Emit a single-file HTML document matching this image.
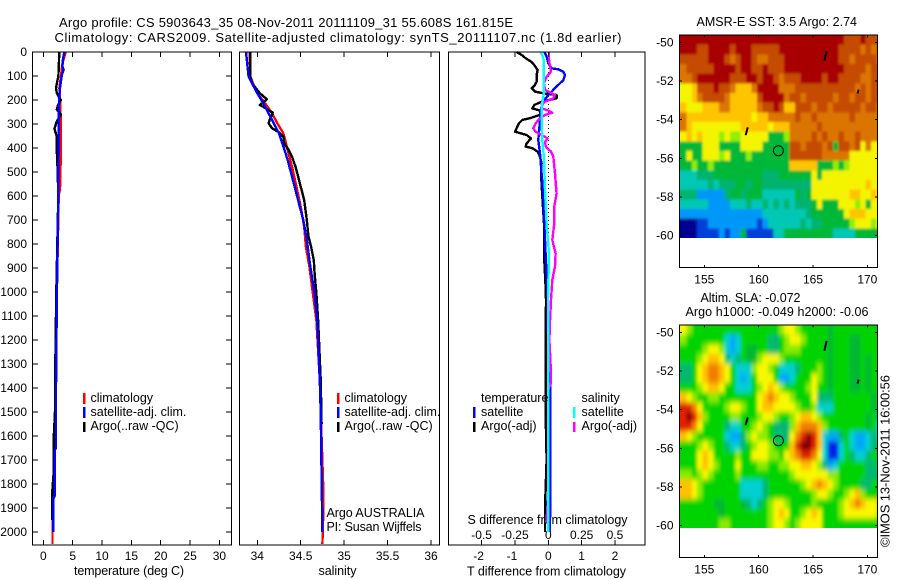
<!DOCTYPE html>
<html>
<head>
<meta charset="utf-8">
<title>Argo profile</title>
<style>
html,body{margin:0;padding:0;background:#fff;width:900px;height:580px;overflow:hidden}
svg{display:block}
text{font-family:"Liberation Sans",sans-serif;font-size:12px;fill:#000}
text.big{font-size:13px}
text.mid{font-size:12.5px}
</style>
</head>
<body>
<svg id="fig" xmlns="http://www.w3.org/2000/svg" width="900" height="580" viewBox="0 0 900 580">
  <defs>
    <filter id="blur-sst" filterUnits="userSpaceOnUse" x="640" y="0" width="260" height="580"><feGaussianBlur stdDeviation="1 1.2"/></filter>
    <filter id="blur-sla" filterUnits="userSpaceOnUse" x="640" y="0" width="260" height="580"><feGaussianBlur stdDeviation="1.6 2.6"/></filter>
    <clipPath id="clip-sst"><rect x="679.5" y="35" width="198" height="203"/></clipPath>
    <clipPath id="clip-sla"><rect x="679.5" y="325" width="198" height="203"/></clipPath>
  </defs>
  <text class="big" x="59" y="27" textLength="454">Argo profile: CS 5903643_35 08-Nov-2011 20111109_31 55.608S 161.815E</text>
  <text class="big" x="54.5" y="42" textLength="567">Climatology: CARS2009. Satellite-adjusted climatology: synTS_20111107.nc (1.8d earlier)</text>
  <text class="mid" x="74" y="575" textLength="110">temperature (deg C)</text>
  <text class="mid" x="318.5" y="575" textLength="38">salinity</text>
  <text class="mid" x="467" y="575.5" textLength="159">T difference from climatology</text>
  <text class="mid" x="467.5" y="524" textLength="160">S difference from climatology</text>
  <text class="mid" x="696.5" y="26" textLength="160.5">AMSR-E SST: 3.5 Argo: 2.74</text>
  <text class="mid" x="700.5" y="302" textLength="100">Altim. SLA: -0.072</text>
  <text class="mid" x="685.5" y="316" textLength="183">Argo h1000: -0.049 h2000: -0.06</text>
  <text class="big" transform="translate(889.5,547) rotate(-90)" textLength="172">©IMOS 13-Nov-2011 16:00:56</text>
  <text class="mid" x="326.5" y="517" textLength="98">Argo AUSTRALIA</text>
  <text class="mid" x="326.5" y="531" textLength="95">PI: Susan Wijffels</text>
</svg>
<script>
// ---------- chart data (depth in metres) ----------
const depthTicks = [0,100,200,300,400,500,600,700,800,900,1000,1100,1200,1300,1400,1500,1600,1700,1800,1900,2000];
const tempTicks = [0,5,10,15,20,25,30];
const salTicks = [34,34.5,35,35.5,36];
const salTickLabels = ['34','34.5','35','35.5','36'];
const tDiffTicks = [-2,-1,0,1,2];
const sDiffTicks = [-0.5,-0.25,0,0.25,0.5];
const sDiffTickLabels = ['-0.5','-0.25','0','0.25','0.5'];
const mapLonTicks = [155,160,165,170];
const mapLatTicks = [-50,-52,-54,-56,-58,-60];

const climTempDepth = [0,20,50,100,150,200,300,400,500,570,600,1000,1400,1600,1800,1830,2050];
const climTemp = [3.80,3.57,3.23,3.00,2.72,2.83,3.00,3.00,2.89,2.83,2.60,2.30,2.05,1.90,1.70,1.55,1.55];
const argoTempDepth = [0,50,100,130,150,170,190,200,220,240,260,290,320,350,400,500,600,1000,1400,1500,1610,1750,1830,1950];
const argoTemp = [2.70,2.65,2.55,2.30,2.15,2.26,2.70,3.00,2.50,2.30,3.00,2.26,1.87,2.26,2.26,2.43,2.54,2.20,1.98,1.98,1.75,1.75,1.52,1.52];
const satTempDepth = [0,30,60,75,90,100,150,200,300,400,500,600,1000,1400,1650,1660,1850,1860,2000];
const satTemp = [3.57,3.34,3.23,3.45,3.20,3.12,2.83,2.66,2.60,2.60,2.54,2.54,2.30,2.15,2.15,1.92,1.92,1.69,1.69];

const climSalDepth = [0,103,131,172,214,256,297,339,394,478,561,644,728,811,894,978,1117,1367,1500,1820,1920,2050];
const climSal = [33.91,33.92,33.95,34.00,34.09,34.17,34.23,34.30,34.34,34.40,34.45,34.50,34.54,34.56,34.60,34.63,34.68,34.72,34.73,34.76,34.76,34.75];
const argoSalDepth = [0,103,131,172,197,221,246,253,276,297,318,332,353,381,408,436,478,506,561,617,700,769,811,867,922,1006,1117,1367,1550];
const argoSal = [33.92,33.92,33.94,34.03,34.11,34.03,34.15,34.18,34.15,34.13,34.17,34.24,34.30,34.31,34.36,34.40,34.44,34.46,34.50,34.54,34.57,34.59,34.62,34.65,34.66,34.68,34.70,34.73,34.74];
const satSalDepth = [0,103,131,172,214,256,283,339,394,450,533,617,700,783,894,1006,1117,1367,1500,2000];
const satSal = [33.87,33.90,33.94,34.00,34.07,34.13,34.17,34.25,34.30,34.35,34.41,34.47,34.53,34.57,34.61,34.66,34.69,34.72,34.73,34.75];

const diffTDepth = [0,12,26,40,54,75,96,124,137,151,165,172,179,193,207,221,235,244,262,276,283,297,318,332,346,360,381,394,401,415,436,464,506,603,714,811,867,978,1033,1300,1500,1700,1900,2000];
const argoDiffT = [-0.95,-0.80,-0.68,-0.52,-0.42,-0.32,-0.35,-0.35,-0.40,-0.50,-0.40,-0.15,0.25,0.25,-0.20,-0.42,-0.48,-0.25,-0.25,-0.55,-0.78,-0.88,-0.95,-1.00,-0.65,-0.52,-0.65,-0.68,-0.48,-0.32,-0.25,-0.20,-0.22,-0.18,-0.13,-0.12,-0.12,-0.08,-0.07,-0.08,-0.08,-0.05,-0.10,-0.10];
const satDiffTDepth = [0,19,47,68,72,82,96,117,137,158,179,207,235,283,367,422,506,603,714,839,1033,1300,1380,1500,1700,2000];
const satDiffT = [-0.12,-0.05,0.00,0.10,0.30,0.45,0.50,0.45,0.30,0.15,0.00,-0.15,-0.22,-0.25,-0.30,-0.25,-0.20,-0.15,-0.12,-0.08,-0.02,0.00,0.06,0.06,0.06,0.05];
const satDiffSDepth = [0,33,103,172,228,283,367,436,575,714,839,1033,1300,1500,1700,2000];
const satDiffS = [-0.055,-0.033,-0.033,-0.033,-0.050,-0.050,-0.045,-0.033,-0.025,-0.013,0.005,-0.002,0.000,0.000,0.000,0.000];
const argoDiffSDepth = [0,33,61,82,103,131,158,172,179,193,207,221,235,244,253,262,276,297,318,332,346,360,374,397,415,436,506,561,589,644,714,783,839,894,950,1033,1130,1200,1338,1380,1408,1850,1961];
const argoDiffS = [0.005,0.005,0.0125,0.020,-0.0125,-0.033,-0.025,0.025,0.050,0.0375,-0.025,-0.050,-0.050,0.000,0.030,-0.025,-0.0625,-0.095,-0.1125,-0.095,-0.050,-0.005,-0.025,-0.0175,0.020,0.0375,0.050,0.0575,0.0625,0.045,0.045,0.030,0.055,0.050,0.030,0.020,0.012,0.008,0.020,0.020,0.000,0.000,-0.015];

// Map grid: each character is a colour class, 0.5 degree cells.
const sstRows = [
"bbbbbbbbbb bbbbbbbbbb bbbbbbbbbb aaabaaa",
"bbbaabbbba bbbaaaaabb bbbbbbbbba aaa9a9a",
"aaaaabbba9 abba99aaab bbbbbbbbba a9aaaa9",
"9aaaaabbbb abbaabaaab bbbbbbbbbb aaaa9aa",
"99abbbbbba aabbabba9a aabbbbabba aaa99aa",
"778aaabaa9 8889bbbb99 9aaaaaaaaa aa9a9aa",
"7789aaaa98 8888abbbb9 aa9aaaaa9a a9aa9aa",
"8777888998 88889aaba8 8aaa9aa9aa aaa9aa9",
"9888888888 8887889999 9a99a99999 9a99999",
"9877777777 7888887888 99999a9999 9999999",
"7878777676 6777775556 9999a9a99a 99a9999",
"5555777555 5777755555 aa9aaa9a5a a9a7977",
"5755777675 5565555555 aaaaaa9999 9777777",
"5565565555 5555555555 8888855565 6777777",
"3334445555 5555544455 5555757777 7777777",
"3333343444 5545544444 4444777777 7777877",
"4442222245 5455533333 3545777777 7887787",
"3333322223 3343343434 3444575557 7767577",
"2222222222 2222233333 3334555555 7888777",
"0001122222 2222123333 3343445555 5677767",
"0001111212 2511111335 5555555533 3355555"
];
const slaRows = [
"7655555555 5555555567 7655555g55 5555555",
"6555555532 3555554456 7765555g55 5gg5555",
"5555677632 35gg554456 6655555g55 5gg5555",
"5556788743 45gg677765 5555555g55 5gg5g55",
"4457899875 3336776533 3455565g55 5gg5g55",
"4457899875 3235777522 3555765g55 5gg5g55",
"5556788755 3335678765 5556755g55 5gg5g55",
"8765566555 5555789877 6555744455 55555g5",
"aa97555567 7655788777 7655633355 55555g5",
"aba8655556 6555677655 6788765555 5555g54",
"aa97555543 3556765444 6899986555 5555g53",
"8765555532 2467665444 79aba83224 5322343",
"5556765543 3456776555 8abba83113 5322344",
"5557875555 6557776657 89aa973113 5433455",
"5557876555 7555665566 7788764235 5555445",
"6656765555 6555555555 6777777665 5555444",
"8876555555 5333345555 5567898765 5554455",
"8876555555 5333345555 5555677655 6786555",
"555555gg55 5g43456776 5555655556 7898778",
"5555555g55 5555556787 5567875556 7777776",
"5555555665 5555556776 5677775555 5555555"
];
const sstPalette = {'0':'#000090','1':'#0040d8','2':'#0098f8','3':'#00c8b4','4':'#00b470','5':'#00b838','6':'#90f000','7':'#f4f400','8':'#ffc400','9':'#dc7400','a':'#c44c00','b':'#a80400'};
const slaPalette = {'1':'#0020e8','2':'#00a8f8','3':'#00d0d0','4':'#00b870','5':'#00d400','6':'#88ec00','7':'#f8f800','8':'#ffc000','9':'#f08000','a':'#e02000','b':'#880000','g':'#00b830'};
const argoLon = [161.815];
const argoLat = [-55.608];
const islandLon = [[166.05,166.25],[169.1,169.2],[158.8,159.0]];
const islandLat = [[-50.95,-50.45],[-52.65,-52.45],[-54.8,-54.4]];

// ---------- scales ----------
const yTop = 52, yBot = 545;
const yDepth = d => yTop + d * 0.24;
const xTemp = t => 43.4 + t * 5.867;
const xSal = s => 257.3 + (s - 34) * 86.85;
const xDT = t => 548.3 + t * 33.33;
const xDS = s => 548.3 + s * 133.3;
const lonPx = lon => 704.3 + (lon - 155) * 10.87;
const latPx = (lat, top) => top + 7.3 + (-50 - lat) * 19.33;

const svg = document.getElementById('fig');
const NS = 'http://www.w3.org/2000/svg';
function mk(tag, attrs, parent) {
  const e = document.createElementNS(NS, tag);
  for (const k in attrs) e.setAttribute(k, attrs[k]);
  (parent || svg).appendChild(e);
  return e;
}
function tickLine(x1, y1, x2, y2, parent) {
  const el = mk('line', {x1, y1, x2, y2, stroke:'#000', 'stroke-width':1, 'shape-rendering':'crispEdges'}, parent);
  
  
}
function label(str, x, y, anchor, parent) {
  const el = mk('text', {x, y, 'text-anchor':anchor}, parent);
  el.textContent = str;
  
  
}
function box(x0, y0, x1, y1, parent) {
  const el = mk('rect', {x:x0, y:y0, width:x1-x0, height:y1-y0, fill:'none', stroke:'#000', 'stroke-width':1, 'shape-rendering':'crispEdges'}, parent);
  
  
}
function profile(name, xs, ds, sx, color, w, parent) {
  const pts = xs.map((v, i) => sx(v).toFixed(1) + ',' + yDepth(ds[i]).toFixed(1)).join(' ');
  const el = mk('polyline', {points:pts, fill:'none', stroke:color, 'stroke-width':w || 2.4, 'shape-rendering':'crispEdges', 'stroke-linejoin':'round'}, parent);
  
  
}
function legendItem(text, color, barX, textX, baseline, barTop, barBot, parent) {
  if (color) {
    const bar = mk('rect', {x:barX, y:barTop, width:2.4, height:barBot-barTop, fill:color, 'shape-rendering':'crispEdges'}, parent);
    
    
  }
  const t = mk('text', {x:textX, y:baseline, class:'mid'}, parent);
  t.textContent = text;
  
  
}

// ---------- temperature panel ----------
const p1 = mk('g', {});


profile('climatology-temperature-line', climTemp, climTempDepth, xTemp, '#ff0000', 2.4, p1);
profile('argo-temperature-line', argoTemp, argoTempDepth, xTemp, '#000000', 2.4, p1);
profile('satellite-temperature-line', satTemp, satTempDepth, xTemp, '#0000ff', 2.4, p1);
box(32.5, yTop, 231.5, yBot, p1);
depthTicks.forEach(d => {
  tickLine(32.5, yDepth(d), 38, yDepth(d), p1);
  tickLine(226, yDepth(d), 231.5, yDepth(d), p1);
  label(String(d), 27, yDepth(d) + 4, 'end', p1);
});
tempTicks.forEach(t => {
  tickLine(xTemp(t), yTop, xTemp(t), yTop + 5, p1);
  tickLine(xTemp(t), yBot - 5, xTemp(t), yBot, p1);
  label(String(t), xTemp(t), 560, 'middle', p1);
});
legendItem('climatology', '#ff0000', 83, 90.5, 402, 393, 404, p1);
legendItem('satellite-adj. clim.', '#0000ff', 83, 90.5, 416, 407, 418, p1);
legendItem('Argo(..raw -QC)', '#000000', 83, 90.5, 430, 422, 432, p1);

// ---------- salinity panel ----------
const p2 = mk('g', {});


profile('climatology-salinity-line', climSal, climSalDepth, xSal, '#ff0000', 2.4, p2);
profile('argo-salinity-line', argoSal, argoSalDepth, xSal, '#000000', 2.4, p2);
profile('satellite-salinity-line', satSal, satSalDepth, xSal, '#0000ff', 2.4, p2);
box(239.5, yTop, 439.5, yBot, p2);
salTicks.forEach((s, i) => {
  tickLine(xSal(s), yTop, xSal(s), yTop + 5, p2);
  tickLine(xSal(s), yBot - 5, xSal(s), yBot, p2);
  label(salTickLabels[i], xSal(s), 560, 'middle', p2);
});
legendItem('climatology', '#ff0000', 337, 344.5, 402, 393, 404, p2);
legendItem('satellite-adj. clim.', '#0000ff', 337, 344.5, 416, 407, 418, p2);
legendItem('Argo(..raw -QC)', '#000000', 337, 344.5, 430, 422, 432, p2);

// ---------- difference panel ----------
const p3 = mk('g', {});


sDiffTicks.forEach((s, i) => {
  label(sDiffTickLabels[i], xDS(s), 539, 'middle', p3);
});
const zeroLine = mk('line', {x1:xDT(0), y1:yTop, x2:xDT(0), y2:yDepth(1000), stroke:'#000', 'stroke-width':1, 'stroke-dasharray':'1 3', 'shape-rendering':'crispEdges'}, p3);


profile('argo-t-difference-line', argoDiffT, diffTDepth, xDT, '#000000', 2.4, p3);
profile('satellite-t-difference-line', satDiffT, satDiffTDepth, xDT, '#0000ff', 2.4, p3);
profile('argo-s-difference-line', argoDiffS, argoDiffSDepth, xDS, '#ff00ff', 2.4, p3);
profile('satellite-s-difference-line', satDiffS, satDiffSDepth, xDS, '#00ffff', 2.4, p3);
box(448.5, yTop, 645, yBot, p3);
tDiffTicks.forEach(t => {
  tickLine(xDT(t), yTop, xDT(t), yTop + 5, p3);
  tickLine(xDT(t), yBot - 5, xDT(t), yBot, p3);
  label(String(t), xDT(t) - (t < 0 ? 3 : 0), 560, 'middle', p3);
});
legendItem('temperature', null, 0, 481, 402, 0, 0, p3);
legendItem('satellite', '#0000ff', 473, 481, 416, 407, 418, p3);
legendItem('Argo(-adj)', '#000000', 473, 481, 430, 422, 432, p3);
legendItem('salinity', null, 0, 581.5, 402, 0, 0, p3);
legendItem('satellite', '#00ffff', 573, 581.5, 416, 407, 418, p3);
legendItem('Argo(-adj)', '#ff00ff', 573, 581.5, 430, 422, 432, p3);

// ---------- maps ----------
function drawMap(name, rows, palette, top, clipId, blurId) {
  const g = mk('g', {});
  
  
  const left = 679.5, right = 877.5, bottom = top + 232.3;
  const lon0 = 152.85, lat0 = -49.62, step = 0.5;
  const clipG = mk('g', {'clip-path':'url(#' + clipId + ')'}, g);
  
  
  const cellsG = mk('g', {filter:'url(#' + blurId + ')'}, clipG);
  
  
  rows.forEach((row, r) => {
    const cells = row.replace(/ /g, '');
    for (let c = 0; c < cells.length; c++) {
      let x0 = lonPx(lon0 + c * step), x1 = lonPx(lon0 + (c + 1) * step);
      let y0 = latPx(lat0 - r * step, top), y1 = latPx(lat0 - (r + 1) * step, top);
      // edge cells extend under the clip so blurring does not fade to white
      if (c === 0) x0 -= 12;
      if (c === cells.length - 1) x1 += 12;
      if (r === 0) y0 -= 12;
      if (r === rows.length - 1) y1 += 12;
      const cell = mk('rect', {x:x0.toFixed(1), y:y0.toFixed(1), width:(x1 - x0 + 0.3).toFixed(1), height:(y1 - y0 + 0.3).toFixed(1), fill:palette[cells[c]], 'shape-rendering':'crispEdges'}, cellsG);
      
      
    }
  });
  islandLon.forEach((lons, i) => {
    const pts = lons.map((lon, k) => lonPx(lon).toFixed(1) + ',' + latPx(islandLat[i][k], top).toFixed(1)).join(' ');
    const isl = mk('polyline', {points:pts, stroke:'#000', 'stroke-width':2, fill:'none'}, g);
    
    
  });
  const ring = mk('circle', {cx:lonPx(argoLon[0]), cy:latPx(argoLat[0], top), r:5, fill:'none', stroke:'#000', 'stroke-width':1}, g);
  
  
  box(left, top, right, bottom, g);
  mapLonTicks.forEach(lon => {
    tickLine(lonPx(lon), top, lonPx(lon), top + 2.5, g);
    tickLine(lonPx(lon), bottom - 2.5, lonPx(lon), bottom, g);
    label(String(lon), lonPx(lon), top + 248.5, 'middle', g);
  });
  mapLatTicks.forEach(lat => {
    tickLine(left, latPx(lat, top), left + 2.5, latPx(lat, top), g);
    tickLine(right - 2.5, latPx(lat, top), right, latPx(lat, top), g);
    label(String(lat), 673.5, latPx(lat, top) + 4, 'end', g);
  });
}
drawMap('sst-map', sstRows, sstPalette, 35, 'clip-sst', 'blur-sst');
drawMap('sla-map', slaRows, slaPalette, 325, 'clip-sla', 'blur-sla');
</script>
</body>
</html>
